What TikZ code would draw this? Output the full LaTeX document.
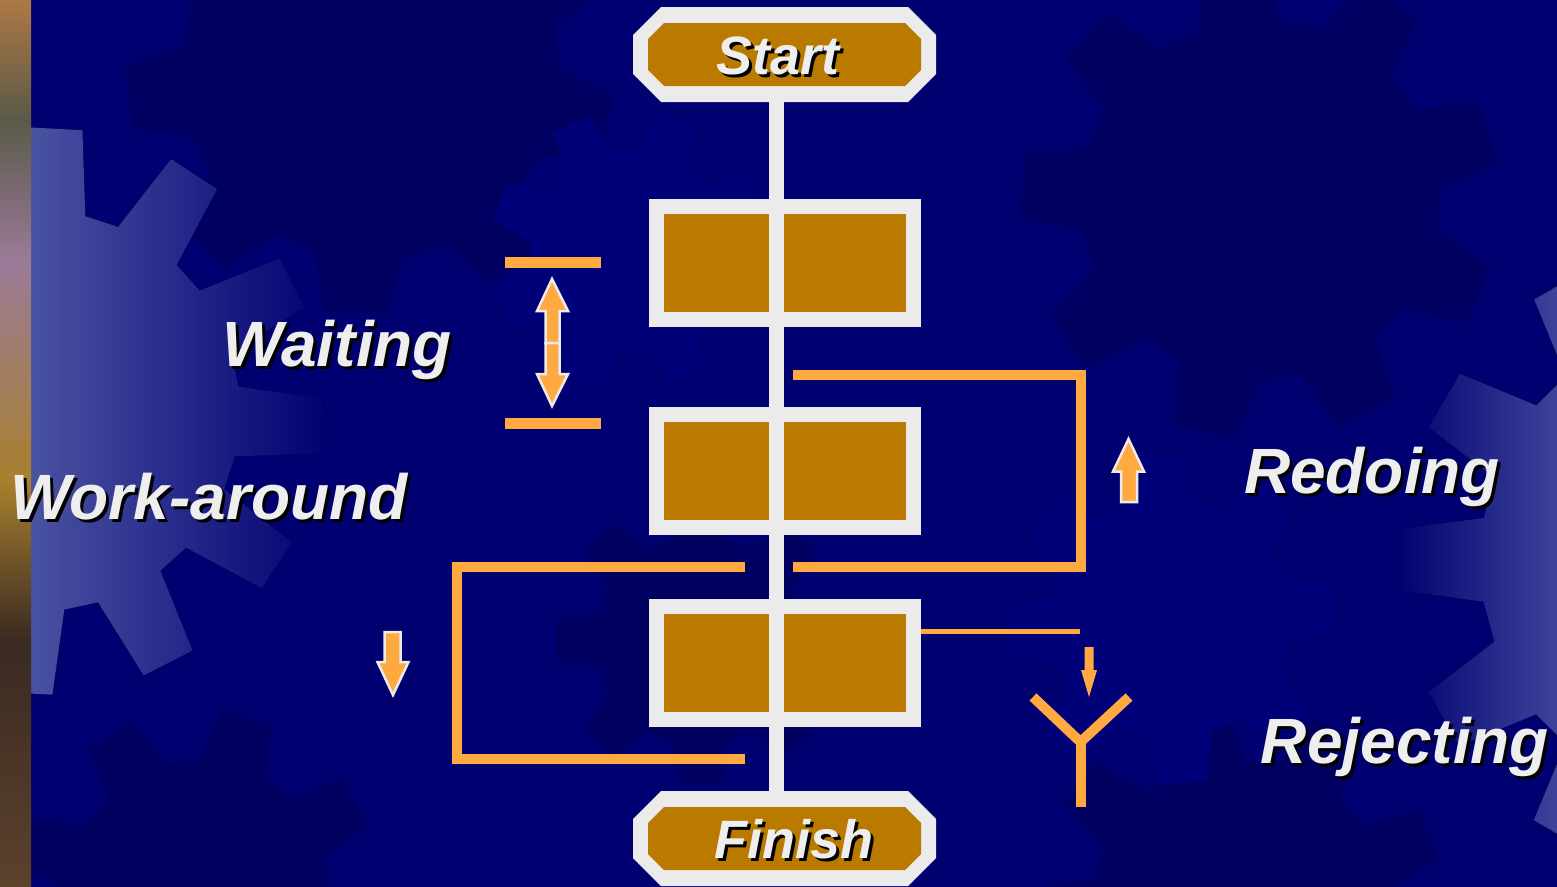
\documentclass[tikz,border=0pt]{standalone}
\usepackage{fontspec}
\setmainfont{Liberation Sans}
\usetikzlibrary{calc}
\definecolor{navy}{HTML}{000070}
\definecolor{darknavy}{HTML}{000060}
\definecolor{lightnavy}{HTML}{000079}
\definecolor{gearlight}{HTML}{4A52A2}
\definecolor{gold}{HTML}{BA7A00}
\definecolor{boxgray}{HTML}{EBEBEB}
\definecolor{orng}{HTML}{FFA940}
\definecolor{txtwhite}{HTML}{EEEEEE}
\definecolor{stripA}{HTML}{B07A45}
\definecolor{stripB}{HTML}{5A5A48}
\definecolor{stripC}{HTML}{9A7A98}
\definecolor{stripD}{HTML}{A8802E}
\definecolor{stripE}{HTML}{3A2A22}
% gear outline: #1 cx, #2 cy, #3 inner r, #4 outer r, #5 teeth, #6 phase
\def\gearpath#1#2#3#4#5#6{%
 ({#1+#3*cos(#6)},{#2+#3*sin(#6)})
 \foreach \k in {1,...,#5}{
   -- ({#1+#4*cos(#6+(\k-1+0.15)*360/#5)},{#2+#4*sin(#6+(\k-1+0.15)*360/#5)})
   -- ({#1+#4*cos(#6+(\k-1+0.52)*360/#5)},{#2+#4*sin(#6+(\k-1+0.52)*360/#5)})
   -- ({#1+#3*cos(#6+(\k-1+0.67)*360/#5)},{#2+#3*sin(#6+(\k-1+0.67)*360/#5)})
   -- ({#1+#3*cos(#6+(\k)*360/#5)},{#2+#3*sin(#6+(\k)*360/#5)})
 } -- cycle}
\begin{document}
\begin{tikzpicture}[x=1pt,y=-1pt,
  stepbox/.style={draw=boxgray, line width=15, fill=gold, minimum width=257, minimum height=113, inner sep=0},
  spine/.style={draw=boxgray, line width=15},
  loopline/.style={draw=orng, line width=10},
  thinline/.style={draw=orng, line width=5},
  fatarrow/.style={fill=orng, draw=boxgray, line width=2.5, line join=miter},
  lbl/.style={font=\fontsize{64}{70}\selectfont\bfseries\itshape, text=txtwhite, inner sep=0, anchor=base},
  shd/.style={lbl, text=black},
  slbl/.style={font=\fontsize{54}{60}\selectfont\bfseries\itshape, text=txtwhite, inner sep=0, anchor=base},
  sshd/.style={slbl, text=black}]
\useasboundingbox (0,0) rectangle (1557,886);
\begin{scope}
\clip (0,0) rectangle (1557,886);
% background
\fill[navy] (-5,-5) rectangle (1562,891);
% subtle background gears
\fill[darknavy] \gearpath{370}{70}{190}{245}{9}{-80};
\fill[darknavy] \gearpath{1260}{200}{180}{240}{9}{-70};
\fill[darknavy] \gearpath{700}{640}{105}{145}{8}{-60};
\fill[darknavy] \gearpath{1240}{910}{150}{205}{9}{-75};
\fill[darknavy] \gearpath{200}{890}{130}{180}{8}{-90};
\fill[lightnavy] \gearpath{630}{250}{100}{140}{8}{-40};
\fill[lightnavy] \gearpath{1170}{620}{120}{165}{8}{-20};
% light gear on the left
\begin{scope}
  \clip \gearpath{40}{411}{200}{284}{12}{-97};
  \fill[left color=gearlight, right color=navy] (31,100) rectangle (330,720);
\end{scope}
% light gear on the right
\begin{scope}
  \clip \gearpath{1720}{560}{240}{320}{12}{-100};
  \fill[left color=navy, right color=gearlight!85!navy] (1395,220) rectangle (1562,900);
\end{scope}
% left photo strip
\fill[top color=stripA, bottom color=stripB] (-5,-5) rectangle (31,120);
\fill[top color=stripB, bottom color=stripC] (-5,120) rectangle (31,260);
\fill[top color=stripC, bottom color=stripD] (-5,260) rectangle (31,480);
\fill[top color=stripD, bottom color=stripE] (-5,480) rectangle (31,640);
\fill[top color=stripE, bottom color=stripE!70!stripA] (-5,640) rectangle (31,891);
% Start and Finish plates
\fill[boxgray] (661,7) -- (908,7) -- (936,35) -- (936,74) -- (908,102) -- (661,102) -- (633,74) -- (633,35) -- cycle;
\fill[gold] (664,23) -- (905,23) -- (921,39) -- (921,70) -- (905,86) -- (664,86) -- (648,70) -- (648,39) -- cycle;
\fill[boxgray] (661,791) -- (908,791) -- (936,819) -- (936,858) -- (908,886) -- (661,886) -- (633,858) -- (633,819) -- cycle;
\fill[gold] (664,807) -- (905,807) -- (921,823) -- (921,854) -- (905,870) -- (664,870) -- (648,854) -- (648,823) -- cycle;
\end{scope}
% rejecting line (behind box)
\coordinate (rj1) at (915,631);
\coordinate (rj2) at (1080,631);
\draw[thinline] (rj1) -- (rj2);
% process boxes
\node[stepbox] (b1) at (785,263) {};
\node[stepbox] (b2) at (785,471) {};
\node[stepbox] (b3) at (785,663) {};
% spine
\coordinate (sbot) at (776.5,100);
\coordinate (ftop) at (776.5,795);
\draw[spine] (sbot) -- (ftop);
% texts Start / Finish
\node[sshd] at (781,77) {Start};
\node[slbl] (start) at (778,74) {Start};
\node[sshd] at (797,861) {Finish};
\node[slbl] (finish) at (794,858) {Finish};
% Waiting
\coordinate (w1a) at (505,262.5); \coordinate (w1b) at (601,262.5);
\coordinate (w2a) at (505,423); \coordinate (w2b) at (601,423);
\draw[draw=orng, line width=11] (w1a) -- (w1b);
\draw[draw=orng, line width=11] (w2a) -- (w2b);
\filldraw[fatarrow] (552,279) -- (568,311) -- (559.5,311) -- (559.5,343) -- (545.5,343) -- (545.5,311) -- (537,311) -- cycle;
\filldraw[fatarrow] (552,406) -- (568,374) -- (559.5,374) -- (559.5,343) -- (545.5,343) -- (545.5,374) -- (537,374) -- cycle;
\node[shd] at (340,369) {Waiting};
\node[lbl] (waiting) at (337,366) {Waiting};
% Redoing loop
\coordinate (r1) at (793,375);
\coordinate (r2) at (1080.5,375);
\coordinate (r3) at (1080.5,567);
\coordinate (r4) at (793,567);
\draw[loopline] (r1) -- (r2) -- (r3) -- (r4);
\filldraw[fatarrow] (1128.5,439) -- (1144,471.5) -- (1137,471.5) -- (1137,502) -- (1121,502) -- (1121,471.5) -- (1113,471.5) -- cycle;
\node[shd] at (1375,496) {Redoing};
\node[lbl] (redoing) at (1372,493) {Redoing};
% Work-around loop
\coordinate (a1) at (745,566.5);
\coordinate (a2) at (456.5,566.5);
\coordinate (a3) at (456.5,759);
\coordinate (a4) at (745,759);
\draw[loopline] (a1) -- (a2) -- (a3) -- (a4);
\filldraw[fatarrow] (393,695) -- (408.5,662) -- (400.5,662) -- (400.5,632) -- (384.5,632) -- (384.5,662) -- (377.5,662) -- cycle;
\node[shd] at (212,522) {Work-around};
\node[lbl] (workaround) at (209,519) {Work-around};
% Rejecting
\fill[orng] (1084.5,647) -- (1093.5,647) -- (1093.5,670) -- (1097,670) -- (1089,697) -- (1081,670) -- (1084.5,670) -- cycle;
\coordinate (y1) at (1033,697);
\coordinate (y2) at (1080.5,742);
\coordinate (y3) at (1129,697);
\coordinate (y4) at (1080.5,807);
\draw[loopline] (y1) -- (y2) -- (y3);
\draw[loopline] (y2) -- (y4);
\node[shd] at (1408,766) {Rejecting};
\node[lbl] (rejecting) at (1405,763) {Rejecting};
\end{tikzpicture}
\end{document}
